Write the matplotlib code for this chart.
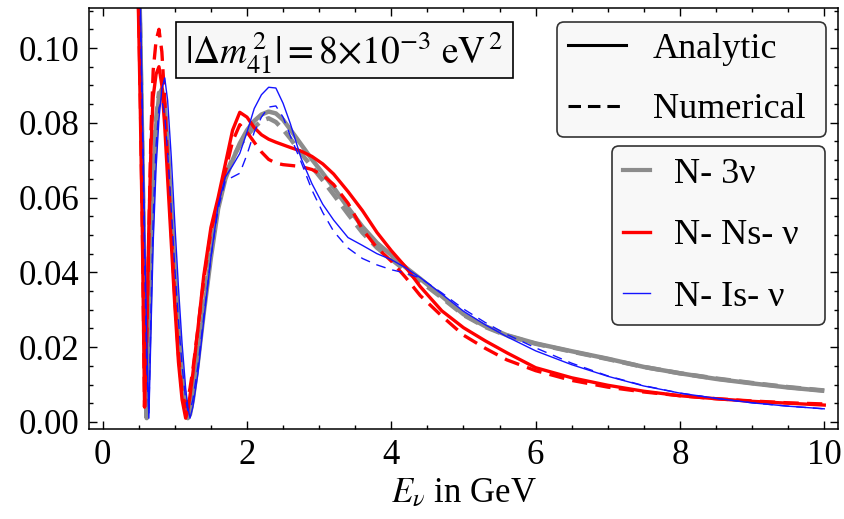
import matplotlib
matplotlib.use('Agg')
import matplotlib.pyplot as plt
from matplotlib.lines import Line2D
from matplotlib.patches import Rectangle
from matplotlib.ticker import MultipleLocator, FormatStrFormatter

plt.rcParams['font.family'] = ['Liberation Serif', 'DejaVu Serif']
plt.rcParams['mathtext.fontset'] = 'stix'
plt.rcParams['lines.scale_dashes'] = False

# ---- data ----
energy = [0.48, 0.52, 0.55, 0.58, 0.61, 0.64, 0.67, 0.70, 0.74, 0.78,
          0.82, 0.86, 0.90, 0.95, 1.00, 1.05, 1.10, 1.15, 1.18, 1.21,
          1.25, 1.32, 1.40, 1.50, 1.60, 1.70, 1.80, 1.90, 2.00, 2.10,
          2.20, 2.30, 2.40, 2.50, 2.60, 2.75, 2.90, 3.05, 3.20, 3.40,
          3.60, 3.80, 4.00, 4.20, 4.40, 4.70, 5.00, 5.30, 5.60, 6.00,
          6.50, 7.00, 7.50, 8.00, 8.50, 9.00, 9.50, 10.0]

n3nu_analytic = [0.140, 0.105, 0.072, 0.035, 0.001, 0.020, 0.045, 0.063, 0.079, 0.087,
                 0.089, 0.085, 0.074, 0.057, 0.040, 0.025, 0.012, 0.004, 0.001, 0.002,
                 0.006, 0.016, 0.029, 0.044, 0.057, 0.065, 0.070, 0.0745, 0.0780, 0.0805,
                 0.0822, 0.0830, 0.0825, 0.0808, 0.0782, 0.0742, 0.0702, 0.0665, 0.0627, 0.0573,
                 0.0522, 0.0479, 0.0446, 0.0413, 0.0383, 0.0336, 0.0288, 0.0256, 0.0232, 0.0210,
                 0.0189, 0.0169, 0.0147, 0.0130, 0.0115, 0.0103, 0.0092, 0.0083]

n3nu_numerical = [0.140, 0.103, 0.070, 0.033, 0.002, 0.022, 0.048, 0.066, 0.081, 0.088,
                  0.088, 0.083, 0.072, 0.056, 0.039, 0.024, 0.012, 0.005, 0.003, 0.004,
                  0.008, 0.018, 0.031, 0.046, 0.058, 0.066, 0.0705, 0.0740, 0.0765, 0.0788,
                  0.0805, 0.0812, 0.0802, 0.0782, 0.0758, 0.0718, 0.0682, 0.0646, 0.0608, 0.0556,
                  0.0506, 0.0466, 0.0435, 0.0404, 0.0376, 0.0332, 0.0286, 0.0254, 0.0231, 0.0209,
                  0.0188, 0.0168, 0.0147, 0.0130, 0.0116, 0.0104, 0.0093, 0.0084]

nns_analytic = [0.125, 0.085, 0.050, 0.004, 0.025, 0.052, 0.074, 0.087, 0.093, 0.095,
                0.090, 0.079, 0.065, 0.048, 0.031, 0.016, 0.006, 0.001, 0.003, 0.007,
                0.013, 0.025, 0.039, 0.052, 0.060, 0.069, 0.078, 0.0828, 0.0815, 0.0787,
                0.0768, 0.0756, 0.0748, 0.0741, 0.0734, 0.0724, 0.0710, 0.0690, 0.0663, 0.0616,
                0.0565, 0.0507, 0.0458, 0.0414, 0.0362, 0.0297, 0.0252, 0.0217, 0.0185, 0.0145,
                0.0118, 0.0098, 0.0082, 0.0070, 0.0062, 0.0055, 0.0050, 0.0045]

nns_numerical = [0.128, 0.088, 0.052, 0.004, 0.022, 0.050, 0.078, 0.094, 0.102, 0.105,
                 0.099, 0.086, 0.070, 0.051, 0.033, 0.018, 0.008, 0.004, 0.006, 0.009,
                 0.014, 0.025, 0.038, 0.051, 0.059, 0.067, 0.075, 0.0795, 0.0775, 0.0748,
                 0.0722, 0.0702, 0.0692, 0.0688, 0.0686, 0.0683, 0.0675, 0.0660, 0.0635, 0.0585,
                 0.0515, 0.0466, 0.0430, 0.0386, 0.0338, 0.0283, 0.0232, 0.0197, 0.0166, 0.0137,
                 0.0111, 0.0093, 0.0080, 0.0070, 0.0062, 0.0056, 0.0051, 0.0048]

nis_analytic = [0.145, 0.115, 0.085, 0.052, 0.022, 0.001, 0.025, 0.048, 0.068, 0.081,
                0.089, 0.092, 0.086, 0.071, 0.053, 0.036, 0.021, 0.009, 0.004, 0.001,
                0.004, 0.013, 0.027, 0.044, 0.058, 0.0655, 0.0685, 0.0718, 0.0775, 0.0838,
                0.0875, 0.0895, 0.0893, 0.0852, 0.0798, 0.0705, 0.0637, 0.0582, 0.0540, 0.0493,
                0.0472, 0.0450, 0.0434, 0.0412, 0.0386, 0.0342, 0.0296, 0.0260, 0.0228, 0.0190,
                0.0153, 0.0122, 0.0096, 0.0077, 0.0063, 0.0051, 0.0042, 0.0035]

nis_numerical = [0.142, 0.110, 0.080, 0.045, 0.015, 0.002, 0.030, 0.055, 0.074, 0.084,
                 0.086, 0.082, 0.072, 0.057, 0.041, 0.027, 0.015, 0.006, 0.003, 0.003,
                 0.006, 0.015, 0.028, 0.044, 0.057, 0.0645, 0.0655, 0.0665, 0.0715, 0.0775,
                 0.0815, 0.0842, 0.0845, 0.0815, 0.0765, 0.0695, 0.0620, 0.0560, 0.0510, 0.0465,
                 0.0437, 0.0420, 0.0407, 0.0398, 0.0385, 0.0345, 0.0302, 0.0266, 0.0234, 0.0198,
                 0.0157, 0.0123, 0.0097, 0.0077, 0.0063, 0.0051, 0.0042, 0.0035]

x_ticks = [0, 2, 4, 6, 8, 10]
y_ticks = [0.00, 0.02, 0.04, 0.06, 0.08, 0.10]
series_labels = ['N- 3ν', 'N- Ns- ν', 'N- Is- ν']
style_labels = ['Analytic', 'Numerical']
annotation = r'$|\Delta m_{41}^{\,2}|{=}8{\times}10^{-3}\ \mathrm{eV}^{\,2}$'

# ---- figure ----
fig = plt.figure(figsize=(8.45, 5.19), dpi=100)
ax = fig.add_axes([0.1053, 0.1734, 0.8864, 0.8112])

GRAY, RED, BLUE = '#8c8c8c', '#ff0000', '#1414ff'
ax.plot(energy, n3nu_analytic, color=GRAY, lw=3.2, solid_capstyle='butt')
ax.plot(energy, n3nu_numerical, color=GRAY, lw=3.2, dashes=(11, 6))
ax.plot(energy, nns_analytic, color=RED, lw=2.4)
ax.plot(energy, nns_numerical, color=RED, lw=2.4, dashes=(11, 6))
ax.plot(energy, nis_analytic, color=BLUE, lw=1.0)
ax.plot(energy, nis_numerical, color=BLUE, lw=1.0, dashes=(7, 5))

ax.set_xlim(-0.19, 10.19)
ax.set_ylim(-0.0019, 0.1107)
ax.set_xticks(x_ticks)
ax.set_yticks(y_ticks)
ax.xaxis.set_minor_locator(MultipleLocator(0.5))
ax.yaxis.set_minor_locator(MultipleLocator(0.005))
ax.yaxis.set_major_formatter(FormatStrFormatter('%.2f'))
ax.tick_params(which='both', direction='in', top=True, right=True, width=1.0,
               labelsize=25)
ax.tick_params(which='major', length=5.5, pad=7)
ax.tick_params(which='minor', length=3.2)
for s in ax.spines.values():
    s.set_linewidth(1.1)

ax.set_xlabel(r'$E_{\nu}$ in GeV', fontsize=25, labelpad=4)

# annotation box
ax.add_patch(Rectangle((0.116, 0.834), 0.450, 0.133, transform=ax.transAxes,
                       facecolor='#f7f7f7', edgecolor='black', lw=1.2, zorder=5))
ax.text(0.341, 0.893, annotation, transform=ax.transAxes, ha='center', va='center',
        fontsize=27, zorder=6)

# legends
h_style = [Line2D([], [], color='black', lw=2.2),
           Line2D([], [], color='black', lw=2.2, dashes=(9, 5))]
leg1 = ax.legend(h_style, style_labels, loc='upper left',
                 bbox_to_anchor=(0.625, 0.967, 0.359, 0.0), mode='expand',
                 borderaxespad=0.0, fontsize=26, handlelength=1.6, handletextpad=0.75,
                 labelspacing=0.75, borderpad=0.3, fancybox=True,
                 framealpha=1, facecolor='#f8f8f8', edgecolor='#333333')
leg1.get_frame().set_linewidth(1.2)
ax.add_artist(leg1)

h_series = [Line2D([], [], color=GRAY, lw=3.0),
            Line2D([], [], color=RED, lw=2.4),
            Line2D([], [], color=BLUE, lw=1.0)]
leg2 = ax.legend(h_series, series_labels, loc='upper left',
                 bbox_to_anchor=(0.698, 0.672, 0.285, 0.0), mode='expand',
                 borderaxespad=0.0, fontsize=26, handlelength=0.75, handletextpad=0.65,
                 labelspacing=0.78, borderpad=0.32, fancybox=True,
                 framealpha=1, facecolor='#f8f8f8', edgecolor='#333333')
leg2.get_frame().set_linewidth(1.2)

fig.savefig('out.png', dpi=100)
